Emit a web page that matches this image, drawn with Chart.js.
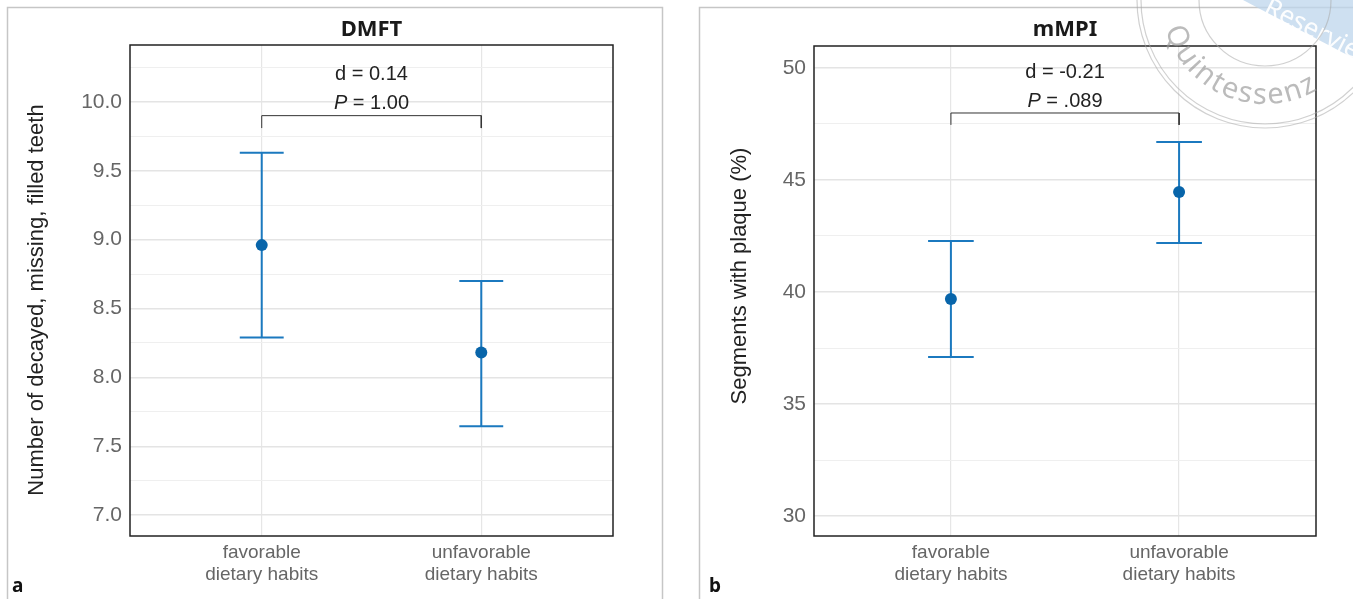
<!DOCTYPE html>
<html lang="en">
<head>
<meta charset="UTF-8" />
<title>DMFT / mMPI</title>
<script src="https://cdn.jsdelivr.net/npm/chart.js"></script>
<style>
  body { margin: 0; background: #fff; }
  canvas { position: absolute; top: 0; }
  #chartA { left: 0; }
  #chartB { left: 680px; }
</style>
</head>
<body>
<canvas id="chartA" width="680" height="599"></canvas>
<canvas id="chartB" width="673" height="599"></canvas>
<script>
// groups on the x axis
const groupLabels = [["favorable", "dietary habits"], ["unfavorable", "dietary habits"]];
const groupX = [1, 2];

// panel a: DMFT
const dmftMean = [8.96, 8.18];
const dmftLow = [8.29, 7.645];
const dmftHigh = [9.63, 8.70];
const dmftTicks = [7.0, 7.5, 8.0, 8.5, 9.0, 9.5, 10.0];
const dmftMinor = [7.25, 7.75, 8.25, 8.75, 9.25, 9.75, 10.25];
const dmftRange = [6.848, 10.413];
const dmftBracket = [9.81, 9.90]; // tip, top
const dmftStats = ["d = 0.14", " = 1.00"];

// panel b: mMPI
const mmpiMean = [39.69, 44.46];
const mmpiLow = [37.1, 42.19];
const mmpiHigh = [42.28, 46.7];
const mmpiTicks = [30, 35, 40, 45, 50];
const mmpiMinor = [32.5, 37.5, 42.5, 47.5];
const mmpiRange = [29.11, 50.98];
const mmpiBracket = [47.46, 47.99];
const mmpiStats = ["d = -0.21", " = .089"];

const BLUE_LINE = "#1b79bf";
const BLUE_DOT = "#0865aa";
const CAP = 0.1;

function errorBarPoints(low, high) {
  const pts = [];
  groupX.forEach((x, i) => {
    pts.push({ x: x - CAP, y: high[i] }, { x: x + CAP, y: high[i] }, { x: x, y: null });
    pts.push({ x: x, y: high[i] }, { x: x, y: low[i] }, { x: x, y: null });
    pts.push({ x: x - CAP, y: low[i] }, { x: x + CAP, y: low[i] }, { x: x, y: null });
  });
  return pts;
}

function panelPlugin(p) {
  return {
    id: "panel" + p.letter,
    beforeDraw(chart) {
      const ctx = chart.ctx;
      ctx.save();
      ctx.strokeStyle = "#c6c6c6";
      ctx.lineWidth = 1.5;
      ctx.strokeRect(p.boxLeft, 7.5, p.boxWidth, 640);
      ctx.restore();
    },
    afterDraw(chart) {
      const ctx = chart.ctx;
      const a = chart.chartArea;
      const xs = chart.scales.x, ys = chart.scales.y;
      ctx.save();
      // frame
      ctx.strokeStyle = "#222";
      ctx.lineWidth = 1.5;
      ctx.strokeRect(a.left, a.top, a.right - a.left, a.bottom - a.top);
      // title
      ctx.fillStyle = "#1a1a1a";
      ctx.font = "bold 22px 'Noto Sans'";
      ctx.textAlign = "center";
      ctx.textBaseline = "middle";
      ctx.fillText(p.title, (a.left + a.right) / 2, 30);
      // y axis title
      ctx.save();
      ctx.translate(p.yTitleX, p.yTitleY);
      ctx.rotate(-Math.PI / 2);
      ctx.fillStyle = "#222";
      ctx.font = "22px 'Liberation Sans'";
      ctx.fillText(p.yTitle, 0, 0);
      ctx.restore();
      // stats above bracket
      const cx = xs.getPixelForValue(1.5);
      const by = ys.getPixelForValue(p.bracket[1]);
      ctx.fillStyle = "#222";
      ctx.font = "20px 'Liberation Sans'";
      ctx.fillText(p.stats[0], cx, by - 41);
      ctx.font = "italic 20px 'Liberation Sans'";
      const wP = ctx.measureText("P").width;
      ctx.font = "20px 'Liberation Sans'";
      const wR = ctx.measureText(p.stats[1]).width;
      const x0 = cx - (wP + wR) / 2;
      ctx.textAlign = "left";
      ctx.font = "italic 20px 'Liberation Sans'";
      ctx.fillText("P", x0, by - 12);
      ctx.font = "20px 'Liberation Sans'";
      ctx.fillText(p.stats[1], x0 + wP, by - 12);
      // panel letter
      ctx.fillStyle = "#111";
      ctx.font = "bold 19px 'Noto Sans'";
      ctx.fillText(p.letter, p.letterX, 587);
      if (p.watermark) drawWatermark(ctx);
      ctx.restore();
    }
  };
}

function drawWatermark(ctx) {
  // stamp in the top right corner of panel b
  ctx.save();
  ctx.fillStyle = "rgba(190,214,236,0.75)";
  ctx.beginPath();
  ctx.moveTo(563, 0);
  ctx.lineTo(673, 0);
  ctx.lineTo(673, 58);
  ctx.closePath();
  ctx.fill();
  ctx.save();
  ctx.translate(594, -10);
  ctx.rotate(0.47);
  ctx.fillStyle = "rgba(255,255,255,0.95)";
  ctx.font = "26px 'Noto Sans'";
  ctx.textAlign = "left";
  ctx.fillText("Reserviert", 0, 18);
  ctx.restore();
  const cx = 585, cy = 0;
  ctx.strokeStyle = "rgba(170,170,170,0.55)";
  ctx.lineWidth = 1.2;
  [128, 124, 66].forEach(r => {
    ctx.beginPath();
    ctx.arc(cx, cy, r, 0, Math.PI * 2);
    ctx.stroke();
  });
  ctx.fillStyle = "rgba(150,150,150,0.65)";
  ctx.font = "29px 'Noto Sans'";
  ctx.textAlign = "center";
  ctx.textBaseline = "alphabetic";
  const word = "Quintessenz";
  const r = 104;
  let theta = 164 * Math.PI / 180;
  for (const ch of word) {
    const w = ctx.measureText(ch).width + 2;
    theta -= w / 2 / r;
    ctx.save();
    ctx.translate(cx + r * Math.cos(theta), cy + r * Math.sin(theta));
    ctx.rotate(theta - Math.PI / 2);
    ctx.fillText(ch, 0, 0);
    ctx.restore();
    theta -= w / 2 / r;
  }
  ctx.restore();
}

function makeChart(id, p) {
  const yAll = p.ticks.concat(p.minor).sort((u, v) => u - v);
  return new Chart(document.getElementById(id), {
    type: "scatter",
    data: {
      datasets: [
        {
          data: groupX.map((x, i) => ({ x: x, y: p.mean[i] })),
          pointRadius: 6,
          pointBackgroundColor: BLUE_DOT,
          pointBorderWidth: 0,
          showLine: false
        },
        {
          data: errorBarPoints(p.low, p.high),
          showLine: true,
          spanGaps: false,
          borderColor: BLUE_LINE,
          borderWidth: 2,
          pointRadius: 0
        },
        {
          data: [
            { x: groupX[0], y: p.bracket[0] },
            { x: groupX[0], y: p.bracket[1] },
            { x: groupX[1], y: p.bracket[1] },
            { x: groupX[1], y: p.bracket[0] }
          ],
          showLine: true,
          borderColor: "#333",
          borderWidth: 1,
          pointRadius: 0
        }
      ]
    },
    options: {
      responsive: false,
      animation: false,
      layout: { padding: { left: 0, right: p.padRight, top: p.padTop, bottom: 0 } },
      plugins: { legend: { display: false }, tooltip: { enabled: false } },
      scales: {
        x: {
          type: "linear",
          min: 0.4,
          max: 2.6,
          afterBuildTicks: s => { s.ticks = groupX.map(v => ({ value: v })); },
          afterFit: s => { s.height = 63; },
          border: { display: false },
          grid: { color: "#e6e6e6", lineWidth: 1.2, drawTicks: false },
          ticks: {
            autoSkip: false,
            maxRotation: 0,
            padding: 5,
            color: "#666",
            font: { family: "'Liberation Sans'", size: 19, lineHeight: 1.2 },
            callback: v => groupLabels[groupX.indexOf(v)]
          }
        },
        y: {
          min: p.range[0],
          max: p.range[1],
          afterBuildTicks: s => { s.ticks = yAll.map(v => ({ value: v })); },
          afterFit: s => { s.width = p.yWidth; },
          border: { display: false },
          grid: {
            drawTicks: false,
            color: c => p.ticks.includes(c.tick.value) ? "#e4e4e4" : "#efefef",
            lineWidth: c => p.ticks.includes(c.tick.value) ? 1.4 : 1
          },
          ticks: {
            autoSkip: false,
            padding: 8,
            color: "#666",
            font: { family: "'Liberation Sans'", size: 21 },
            callback: v => p.ticks.includes(v) ? v.toFixed(p.dec) : ""
          },
          title: { display: false }
        }
      }
    },
    plugins: [panelPlugin(p)]
  });
}

makeChart("chartA", {
  letter: "a", letterX: 12, boxLeft: 7.5, boxWidth: 655, watermark: false,
  title: "DMFT", yTitle: "Number of decayed, missing, filled teeth",
  yTitleX: 37, yTitleY: 300,
  mean: dmftMean, low: dmftLow, high: dmftHigh,
  ticks: dmftTicks, minor: dmftMinor, range: dmftRange, dec: 1,
  bracket: dmftBracket, stats: dmftStats,
  yWidth: 130, padRight: 67, padTop: 45
});

makeChart("chartB", {
  letter: "b", letterX: 29, boxLeft: 19.5, boxWidth: 700, watermark: true,
  title: "mMPI", yTitle: "Segments with plaque (%)",
  yTitleX: 60, yTitleY: 276,
  mean: mmpiMean, low: mmpiLow, high: mmpiHigh,
  ticks: mmpiTicks, minor: mmpiMinor, range: mmpiRange, dec: 0,
  bracket: mmpiBracket, stats: mmpiStats,
  yWidth: 134, padRight: 37, padTop: 46
});
</script>
</body>
</html>
